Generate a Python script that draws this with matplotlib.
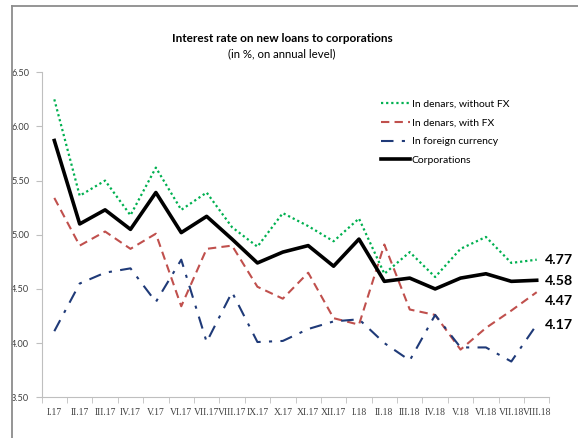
import matplotlib
matplotlib.use("Agg")
import matplotlib.pyplot as plt
from matplotlib.lines import Line2D

plt.rcParams['font.family'] = ['Lato', 'DejaVu Sans']

months = ["I.17", "II.17", "III.17", "IV.17", "V.17", "VI.17", "VII.17", "VIII.17",
          "IX.17", "X.17", "XI.17", "XII.17", "I.18", "II.18", "III.18", "IV.18",
          "V.18", "VI.18", "VII.18", "VIII.18"]

denars_no_fx = [6.25, 5.36, 5.50, 5.18, 5.62, 5.23, 5.39, 5.07, 4.89, 5.20,
                5.08, 4.94, 5.15, 4.64, 4.84, 4.61, 4.87, 4.98, 4.74, 4.77]
denars_fx = [5.34, 4.90, 5.03, 4.87, 5.01, 4.34, 4.87, 4.90, 4.52, 4.41,
             4.65, 4.23, 4.17, 4.91, 4.31, 4.26, 3.94, 4.14, 4.30, 4.47]
foreign = [4.11, 4.55, 4.65, 4.69, 4.38, 4.77, 4.01, 4.47, 4.01, 4.02,
           4.13, 4.20, 4.22, 4.00, 3.84, 4.26, 3.96, 3.96, 3.83, 4.17]
corporations = [5.87, 5.10, 5.23, 5.05, 5.39, 5.02, 5.17, 4.96, 4.74, 4.84,
                4.90, 4.71, 4.96, 4.57, 4.60, 4.50, 4.60, 4.64, 4.57, 4.58]

# last values shown at the right, label heights nudged apart
end_labels = ["4.77", "4.58", "4.47", "4.17"]
label_y = [4.77, 4.575, 4.39, 4.17]

fig = plt.figure(figsize=(5.78, 4.38), dpi=100)
ax = fig.add_axes([0.072, 0.093, 0.8785, 0.742])

x = list(range(len(months)))
ax.plot(x, denars_no_fx, color='#00B050', lw=1.6, ls=(0, (1, 1.3)), label='In denars, without FX')
ax.plot(x, denars_fx, color='#C0504D', lw=1.5, ls=(0, (4, 2.5)), label='In denars, with FX')
ax.plot(x, foreign, color='#1F3A78', lw=1.5, ls=(0, (6, 4, 1.5, 4)), label='In foreign currency')
ax.plot(x, corporations, color='black', lw=2.6, label='Corporations')

for txt, yy in zip(end_labels, label_y):
    ax.text(19.33, yy, txt, fontsize=10.3, fontweight='bold', ha='left', va='center')

ax.set_xlim(-0.5, 19.5)
ax.set_ylim(3.5, 6.5)
ax.set_yticks([3.5, 4.0, 4.5, 5.0, 5.5, 6.0, 6.5])
ax.set_yticklabels(["%.2f" % v for v in [3.5, 4.0, 4.5, 5.0, 5.5, 6.0, 6.5]])
ax.set_xticks(x)
ax.set_xticklabels(months, family=['Liberation Serif', 'DejaVu Serif'])
ax.set_xticks([i + 0.5 for i in range(-1, 20)], minor=True)
ax.tick_params(axis='x', which='major', length=0, labelsize=6.9, colors='#404040', pad=8)
ax.tick_params(axis='x', which='minor', length=4, color='#BFBFBF', direction='out')
ax.tick_params(axis='y', length=4, color='#BFBFBF', labelsize=6.6, labelcolor='#404040', pad=5)

for s in ['top', 'right']:
    ax.spines[s].set_visible(False)
ax.spines['left'].set_color('#BFBFBF')
ax.spines['bottom'].set_color('#BFBFBF')

leg = ax.legend(loc='upper left', bbox_to_anchor=(0.66, 0.928), frameon=False,
                fontsize=7.5, handlelength=2.8, handletextpad=0.15,
                labelspacing=0.9, borderaxespad=0)

fig.text(0.488, 0.913, "Interest rate on new loans to corporations", ha='center',
         va='center', fontsize=8.5, fontweight='bold')
fig.text(0.488, 0.877, "(in %, on annual level)", ha='center', va='center', fontsize=8.2)

# partial frame around the chart
fig.add_artist(Line2D([12 / 578, 1], [1 - 6 / 438, 1 - 6 / 438], color='#8C8C8C', lw=1.3))
fig.add_artist(Line2D([12 / 578, 12 / 578], [0, 1 - 6 / 438], color='#8C8C8C', lw=1.3))

fig.savefig("out.png", dpi=100)
